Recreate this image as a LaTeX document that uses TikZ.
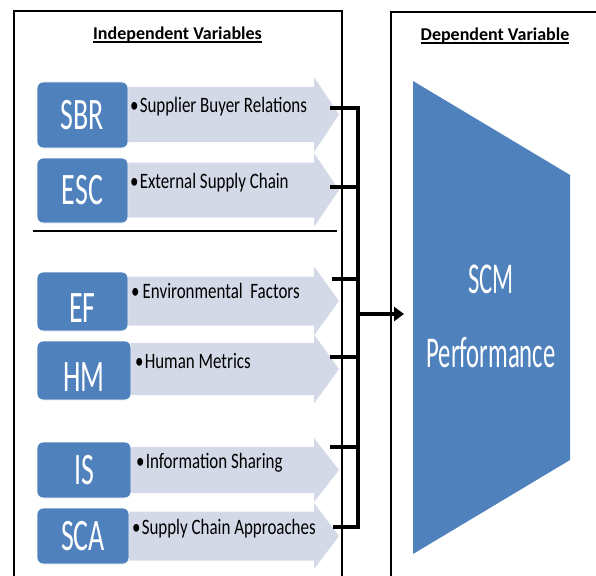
\documentclass[tikz,border=0pt]{standalone}
\usepackage{fontspec}
\setmainfont{Carlito}
\usetikzlibrary{positioning, calc, arrows.meta}

\definecolor{boxblue}{HTML}{4F81BD}
\definecolor{arrowfill}{HTML}{D3D9E7}

% narrow text, as in the original graphic
\newcommand\squeeze[2]{\scalebox{#1}[1]{#2}}
% underlined heading
\newcommand\headline[1]{\setbox0=\hbox{#1}\rlap{\rule[-2.6pt]{\wd0}{1.3pt}}\box0}
% light arrow behind a row: centre, half body, half head
\newcommand\rowarrow[3]{%
  \fill[arrowfill] (115,#1-#2) -- (314,#1-#2) -- (314,#1-#3) -- (339,#1)
    -- (314,#1+#3) -- (314,#1+#2) -- (115,#1+#2) -- cycle;}

\tikzset{
  frame/.style={draw, line width=1.2pt},
  bluebox/.style={fill=boxblue, draw=white, line width=0.8pt, rounded corners=6pt,
    inner sep=0pt, text=white, font=\fontsize{45}{50}\selectfont},
  itemtext/.style={anchor=base west, inner sep=0pt, font=\fontsize{22}{26}\selectfont},
  heading/.style={anchor=base, inner sep=0pt, font=\fontsize{18}{22}\selectfont\bfseries},
  bracket/.style={line width=4pt},
  mainarrow/.style={line width=3.5pt, -{Triangle[length=10pt, width=14pt]}},
}

\begin{document}
\begin{tikzpicture}[x=1pt, y=-1pt]
        \useasboundingbox (0,0) rectangle (596,575);

        % Light arrows
        \rowarrow{114.5}{27.5}{37.5}
        \rowarrow{190}{27.5}{37}
        \rowarrow{301}{24.5}{34.5}
        \rowarrow{369}{26}{34.5}
        \rowarrow{470}{23}{32}
        \rowarrow{536}{24.5}{33}

        % Variable boxes
        \node[bluebox, minimum width=91pt, minimum height=66pt] (sbr) at (82.5,115) {\squeeze{0.62}{SBR}};
        \node[bluebox, minimum width=91pt, minimum height=65pt] (esc) at (82.5,190.5) {\squeeze{0.62}{ESC}};
        \node[bluebox, minimum width=91pt, minimum height=59pt, text height=41pt] (ef) at (82.5,301.5) {\squeeze{0.62}{EF}};
        \node[bluebox, minimum width=94pt, minimum height=59pt, text height=41pt] (hm) at (84,370.5) {\squeeze{0.62}{HM}};
        \node[bluebox, minimum width=94pt, minimum height=56pt] (is) at (84,470) {\squeeze{0.62}{IS}};
        \node[bluebox, minimum width=92pt, minimum height=56pt] (sca) at (83,536) {\squeeze{0.62}{SCA}};

        % Item texts
        \node[itemtext] (sbrtext) at (130,113) {\squeeze{0.77}{•\hspace{1.5pt}Supplier Buyer Relations}};
        \node[itemtext] (esctext) at (130,188) {\squeeze{0.77}{•\hspace{1.5pt}External Supply Chain}};
        \node[itemtext] (eftext) at (131,298) {\squeeze{0.77}{•\hspace{4pt}Environmental\ \ Factors}};
        \node[itemtext] (hmtext) at (135,368) {\squeeze{0.77}{•\hspace{1.5pt}Human Metrics}};
        \node[itemtext] (istext) at (136,468) {\squeeze{0.77}{•\hspace{1.5pt}Information Sharing}};
        \node[itemtext] (scatext) at (132,534) {\squeeze{0.77}{•\hspace{1.5pt}Supply Chain Approaches}};

        % Frames and headings
        \draw[frame] (14,595) -- (14,11) -- (342,11) -- (342,595);
        \draw[frame] (391,595) -- (391,12) -- (615,12);
        \draw[line width=2pt] (33,231) -- (337,231);
        \node[heading] (indep) at (177.5,40) {\headline{Independent Variables}};
        \node[heading] (dep) at (495,41) {\headline{Dependent Variable}};

        % Outcome
        \fill[boxblue] (413,81) -- (570,175) -- (570,460) -- (413,554) -- cycle;
        \node[text=white, align=center, inner sep=0pt, font=\fontsize{44}{74}\selectfont] (scm) at (491,316.5)
            {\squeeze{0.56}{SCM}\\\squeeze{0.56}{Performance}};

        % Bracket
        \coordinate (jsbr) at (330,108);
        \coordinate (jesc) at (330,187);
        \coordinate (jef) at (332,279);
        \coordinate (jhm) at (330,357);
        \coordinate (jis) at (330,447);
        \coordinate (jsca) at (333,527);
        \coordinate (spine) at (358,314);
        \coordinate (target) at (404,314);
        \draw[bracket] (jsbr) -- (jsbr -| spine) -- (jsca -| spine) -- (jsca);
        \foreach \j in {jesc, jef, jhm, jis}
            \draw[bracket] (\j) -- (\j -| spine);
        \draw[mainarrow] (spine) -- (target);
\end{tikzpicture}
\end{document}
